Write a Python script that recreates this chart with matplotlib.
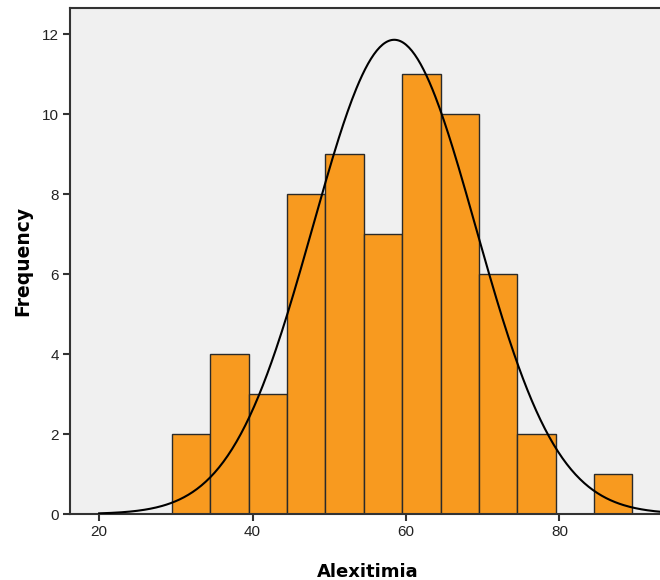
import numpy as np
import matplotlib
matplotlib.use("Agg")
import matplotlib.pyplot as plt

plt.rcParams['font.family'] = ['Liberation Sans', 'DejaVu Sans']

# Data
bin_edges = [29.5, 34.5, 39.5, 44.5, 49.5, 54.5, 59.5, 64.5, 69.5, 74.5, 79.5, 84.5, 89.5]
counts = [2, 4, 3, 8, 9, 7, 11, 10, 6, 2, 0, 1]
mean_val = 58.46
sd_val = 10.6
x_ticks = [20, 40, 60, 80]
y_ticks = [0, 2, 4, 6, 8, 10, 12]

n = sum(counts)
width = bin_edges[1] - bin_edges[0]

fig = plt.figure(figsize=(6.6, 5.8), dpi=100)
ax = fig.add_axes([70/660, 1-514/580, 1-70/660, (514-8)/580])
ax.set_facecolor('#f0f0f0')

lefts = np.array(bin_edges[:-1])
ax.bar(lefts, counts, width=width, align='edge', color='#f89a1f',
       edgecolor='#2a2a2a', linewidth=1.0, zorder=2)

xs = np.linspace(20, 96, 400)
ys = n * width / (sd_val * np.sqrt(2*np.pi)) * np.exp(-0.5*((xs-mean_val)/sd_val)**2)
ax.plot(xs, ys, color='black', linewidth=1.5, zorder=3)

ax.set_xlim(16.2, 93.1)
ax.set_ylim(0, 12.65)
ax.set_xticks(x_ticks)
ax.set_yticks(y_ticks)
ax.tick_params(axis='both', direction='out', length=5, width=1.5,
               color='#333333', labelsize=11, labelcolor='#222222', pad=3)

for s in ['left', 'bottom', 'top']:
    ax.spines[s].set_color('#333333')
    ax.spines[s].set_linewidth(1.5)
ax.spines['right'].set_visible(False)

ax.set_xlabel('Alexitimia', fontsize=13, fontweight='bold', labelpad=16,
              family=['DejaVu Sans'])
ax.xaxis.set_label_coords((368 - 70) / 590, -0.097)
ax.set_ylabel('Frequency', fontsize=13.5, fontweight='bold', labelpad=7,
              family=['DejaVu Sans'])

fig.savefig('out.png', dpi=100)
